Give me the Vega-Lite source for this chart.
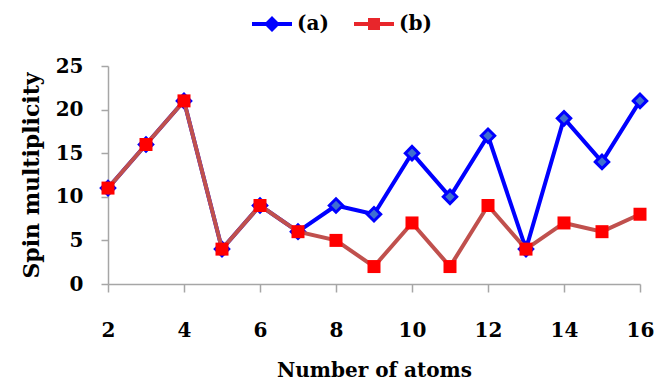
{
  "$schema": "https://vega.github.io/schema/vega-lite/v6.json",
  "width": 532,
  "height": 218,
  "autosize": "none",
  "padding": {"left": 108, "top": 66, "right": 17, "bottom": 99},
  "background": "white",
  "config": {
    "view": {"stroke": null},
    "font": "DejaVu Serif",
    "axis": {
      "grid": false,
      "domainColor": "#A6A6A6",
      "domainWidth": 1.5,
      "tickColor": "#A6A6A6",
      "tickWidth": 1.5,
      "labelFont": "DejaVu Serif",
      "labelFontWeight": "bold",
      "labelFontSize": 20,
      "labelColor": "#000000",
      "labelFlush": false,
      "labelOverlap": false,
      "titleFont": "DejaVu Serif",
      "titleFontWeight": "bold",
      "titleColor": "#000000"
    }
  },
  "data": {
    "values": [
      {"atoms": 2, "series": "(a)", "value": 11},
      {"atoms": 3, "series": "(a)", "value": 16},
      {"atoms": 4, "series": "(a)", "value": 21},
      {"atoms": 5, "series": "(a)", "value": 4},
      {"atoms": 6, "series": "(a)", "value": 9},
      {"atoms": 7, "series": "(a)", "value": 6},
      {"atoms": 8, "series": "(a)", "value": 9},
      {"atoms": 9, "series": "(a)", "value": 8},
      {"atoms": 10, "series": "(a)", "value": 15},
      {"atoms": 11, "series": "(a)", "value": 10},
      {"atoms": 12, "series": "(a)", "value": 17},
      {"atoms": 13, "series": "(a)", "value": 4},
      {"atoms": 14, "series": "(a)", "value": 19},
      {"atoms": 15, "series": "(a)", "value": 14},
      {"atoms": 16, "series": "(a)", "value": 21},
      {"atoms": 2, "series": "(b)", "value": 11},
      {"atoms": 3, "series": "(b)", "value": 16},
      {"atoms": 4, "series": "(b)", "value": 21},
      {"atoms": 5, "series": "(b)", "value": 4},
      {"atoms": 6, "series": "(b)", "value": 9},
      {"atoms": 7, "series": "(b)", "value": 6},
      {"atoms": 8, "series": "(b)", "value": 5},
      {"atoms": 9, "series": "(b)", "value": 2},
      {"atoms": 10, "series": "(b)", "value": 7},
      {"atoms": 11, "series": "(b)", "value": 2},
      {"atoms": 12, "series": "(b)", "value": 9},
      {"atoms": 13, "series": "(b)", "value": 4},
      {"atoms": 14, "series": "(b)", "value": 7},
      {"atoms": 15, "series": "(b)", "value": 6},
      {"atoms": 16, "series": "(b)", "value": 8}
    ]
  },
  "encoding": {
    "x": {
      "field": "atoms", "type": "quantitative",
      "scale": {"domain": [2, 16], "nice": false, "zero": false},
      "axis": {"values": [2, 4, 6, 8, 10, 12, 14, 16], "tickSize": 8, "labelPadding": 28, "title": "Number of atoms", "titleFontSize": 20, "titlePadding": 20}
    },
    "y": {
      "field": "value", "type": "quantitative",
      "scale": {"domain": [0, 25], "nice": false},
      "axis": {"values": [0, 5, 10, 15, 20, 25], "tickSize": 7, "labelPadding": 18, "title": "Spin multiplicity", "titleFontSize": 22, "titlePadding": 12}
    }
  },
  "layer": [
    {
      "transform": [{"filter": "datum.series === '(a)'"}],
      "mark": {"type": "line", "strokeWidth": 4},
      "encoding": {
        "color": {
          "field": "series", "type": "nominal",
          "scale": {"domain": ["(a)", "(b)"], "range": ["#0000FF", "#C0504D"]},
          "legend": {
            "title": null,
            "orient": "none",
            "legendX": 154,
            "legendY": -52,
            "direction": "horizontal",
            "padding": 0,
            "symbolSize": 256,
            "labelOffset": 15,
            "columnPadding": 25,
            "labelFont": "DejaVu Serif",
            "labelFontWeight": "bold",
            "labelFontSize": 20,
            "labelColor": "#000000",
            "encode": {
              "symbols": {
                "update": {
                  "shape": {"signal": "datum.value === '(a)' ? 'M-2.5,-0.25 L-0.75,-0.25 L0,-1 L0.75,-0.25 L2.5,-0.25 L2.5,0.25 L0.75,0.25 L0,1 L-0.75,0.25 L-2.5,0.25 Z' : 'M-2.5,-0.25 L-0.75,-0.25 L-0.75,-0.75 L0.75,-0.75 L0.75,-0.25 L2.5,-0.25 L2.5,0.25 L0.75,0.25 L0.75,0.75 L-0.75,0.75 L-0.75,0.25 L-2.5,0.25 Z'"},
                  "fill": {"signal": "datum.value === '(a)' ? '#0000FF' : '#E8262B'"},
                  "stroke": {"value": "transparent"},
                  "strokeWidth": {"value": 0},
                  "opacity": {"value": 1}
                }
              }
            }
          }
        }
      }
    },
    {
      "transform": [{"filter": "datum.series === '(a)'"}],
      "mark": {"type": "point", "shape": "diamond", "size": 180, "filled": true, "fill": "#3F6FD0", "stroke": "#0000FF", "strokeWidth": 3, "opacity": 1}
    },
    {
      "transform": [{"filter": "datum.series === '(b)'"}],
      "mark": {"type": "line", "strokeWidth": 4},
      "encoding": {
        "color": {"field": "series", "type": "nominal"}
      }
    },
    {
      "transform": [{"filter": "datum.series === '(b)'"}],
      "mark": {"type": "point", "shape": "square", "size": 169, "filled": true, "fill": "#FF0000", "strokeWidth": 0, "opacity": 1}
    }
  ]
}
